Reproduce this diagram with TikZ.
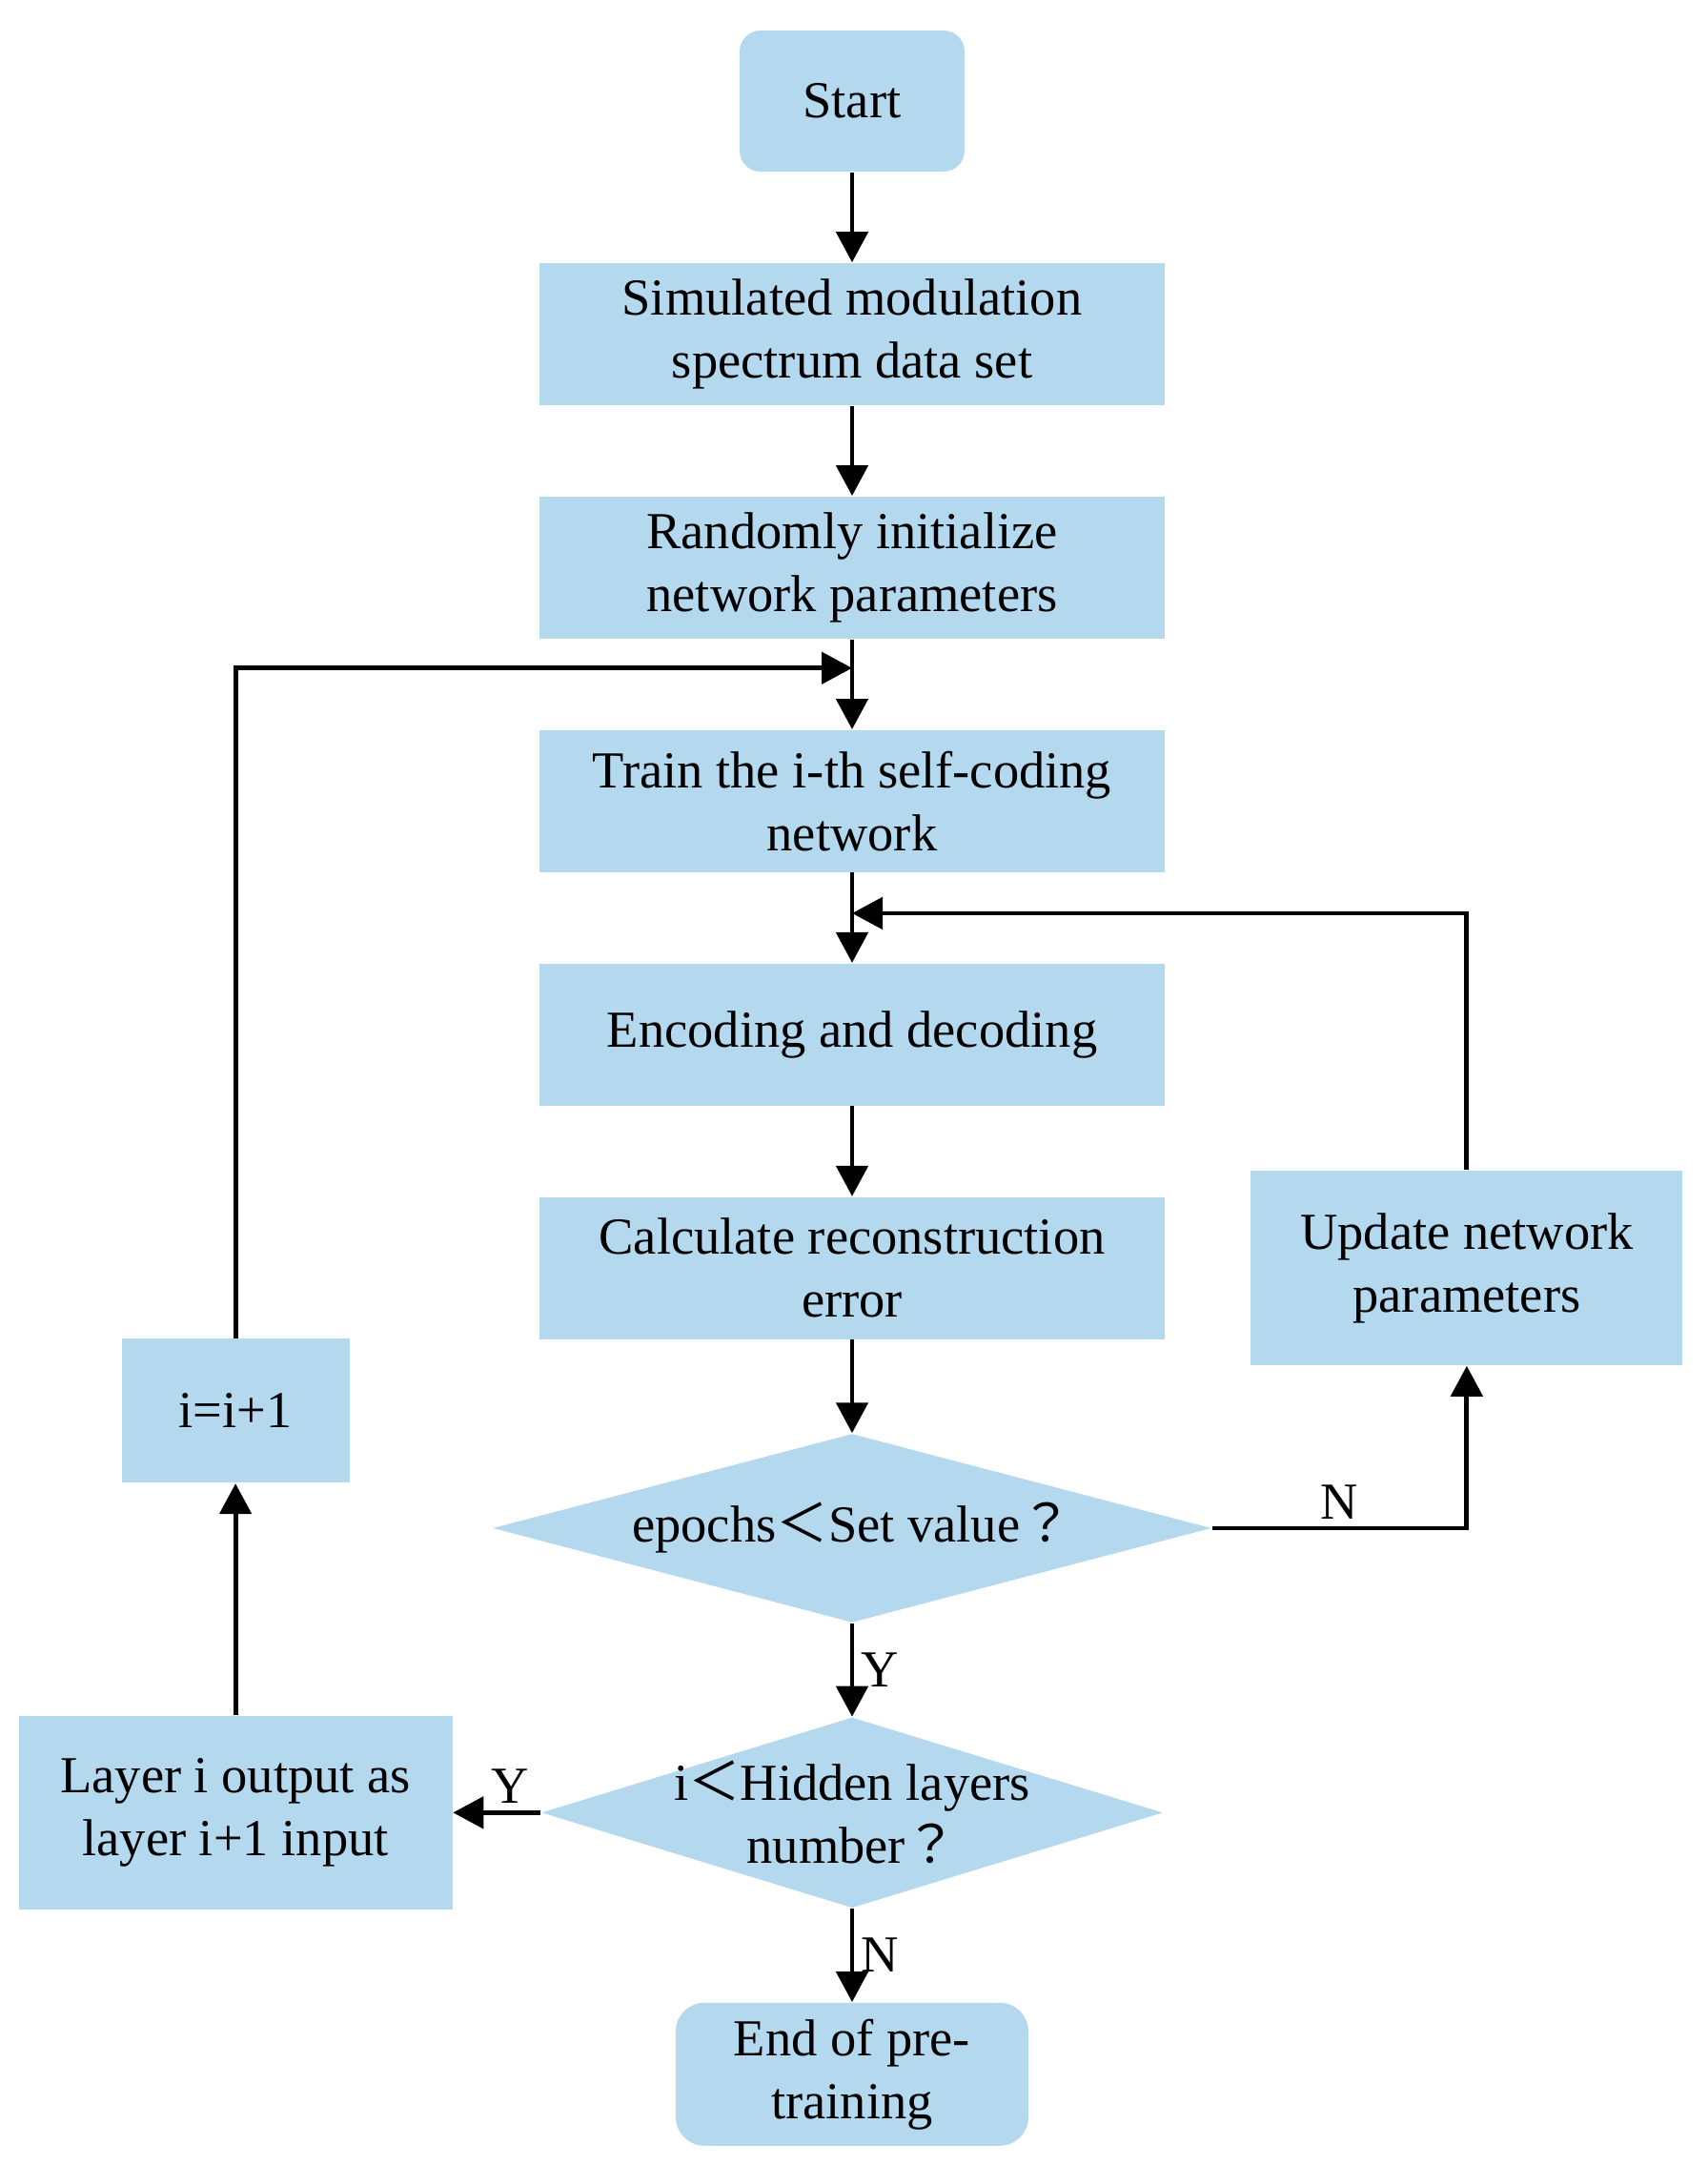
\documentclass[tikz,border=0pt]{standalone}
\usepackage{fontspec}
\setmainfont{Liberation Serif}
\newfontfamily\cjk{Noto Sans CJK TC}
\usetikzlibrary{arrows.meta, positioning, shapes.geometric, calc}
\definecolor{boxblue}{RGB}{180,216,238}

\begin{document}
\begin{tikzpicture}[
    node distance=0.945cm,
    every node/.style={font=\fontsize{15.5}{18.8}\selectfont},
    box/.style={rectangle, fill=boxblue, minimum width=6.56cm, minimum height=1.49cm, align=center, inner sep=0pt},
    term/.style={box, rounded corners=0.22cm, minimum width=2.36cm, minimum height=1.48cm},
    decision/.style={diamond, fill=boxblue, inner sep=0pt, aspect=3.8},
    arr/.style={-{Triangle[length=0.32cm, width=0.33cm]}, line width=1.4pt},
    yn/.style={inner sep=2pt}
  ]
    \useasboundingbox (0,0) rectangle (17.92,-22.71);
    \node[term] (start) at (8.94,-1.06) {Start};
    \node[box, below=of start] (sim) {Simulated modulation\\spectrum data set};
    \node[box, below=of sim] (init) {Randomly initialize\\network parameters};
    \node[box, below=of init] (train) {Train the i-th self-coding\\network};
    \node[box, below=of train] (codec) {Encoding and decoding};
    \node[box, below=of codec] (err) {Calculate reconstruction\\error};
    \node[decision, minimum width=7.54cm, minimum height=1.98cm, below=0.98cm of err] (epochs) {};
    \node (epochstxt) at (epochs) {epochs{\cjk ＜}Set value{\cjk ？}};
    \node[decision, minimum width=6.52cm, minimum height=2cm, below=0.98cm of epochs] (hidden) {};
    \node[align=center] (hiddentxt) at (hidden) {i{\cjk ＜}Hidden layers\\number{\cjk ？}};
    \node[term, rounded corners=0.3cm, minimum width=3.7cm, minimum height=1.5cm, below=0.98cm of hidden] (finish) {End of pre-\\training};
    \node[box, minimum width=4.53cm, minimum height=2.04cm, right=0.89cm of err] (update) {Update network\\parameters};
    \node[box, minimum width=4.55cm, minimum height=2.03cm, left=0.92cm of hidden] (output) {Layer i output as\\layer i+1 input};
    \node[box, minimum width=2.39cm, minimum height=1.51cm, above=2.43cm of output] (incr) {i=i+1};

    % loop junctions on the main column
    \coordinate (loopin) at ($(init.south)!0.32!(train.north)$);
    \coordinate (loopup) at ($(train.south)!0.45!(codec.north)$);

    \draw[arr] (start) -- (sim);
    \draw[arr] (sim) -- (init);
    \draw[arr] (init) -- (train);
    \draw[arr] (train) -- (codec);
    \draw[arr] (codec) -- (err);
    \draw[arr] (err) -- (epochs);
    \draw[arr] (epochs) -- node[yn, right] {Y} (hidden);
    \draw[arr] (hidden) -- node[yn, right] {N} (finish);
    \draw[arr] (epochs.east) -| node[yn, pos=0.25, above] {N} (update);
    \draw[arr] (update) |- (loopup);
    \draw[arr] (hidden.west) -- node[yn, pos=0.35, above] {Y} (output);
    \draw[arr] (output) -- (incr);
    \draw[arr] (incr) |- (loopin);
\end{tikzpicture}
\end{document}
